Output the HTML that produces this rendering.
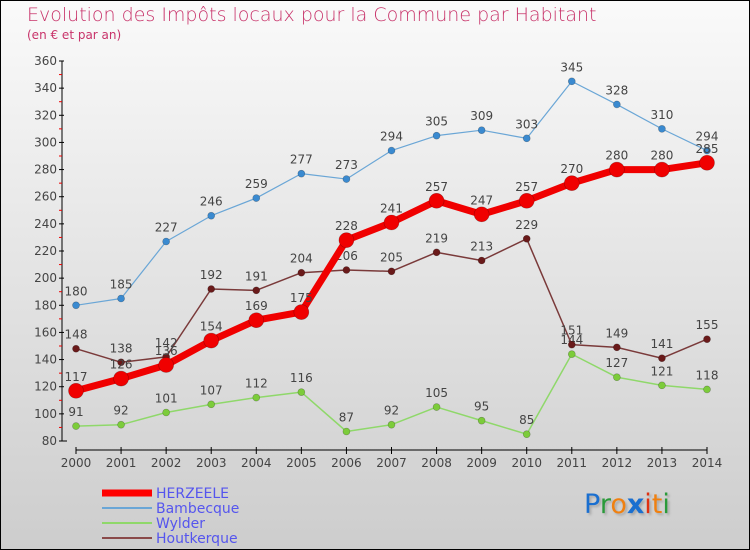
<!DOCTYPE html>
<html><head><meta charset="utf-8"><style>
html,body{margin:0;padding:0}
body{width:750px;height:550px;overflow:hidden;font-family:"DejaVu Sans","Liberation Sans",sans-serif}
#wrap{position:relative;width:748px;height:548px;border:1px solid #000;background:linear-gradient(#fafafa,#cdcdcd)}
.t{position:absolute;color:#c8336a}
</style></head><body>
<div id="wrap">
<div class="t" style="left:26px;top:3px;font-size:19px;font-weight:200">Evolution des Impôts locaux pour la Commune par Habitant</div>
<div class="t" style="left:26px;top:27px;font-size:12px">(en € et par an)</div>
<svg id="c" width="748" height="548" style="position:absolute;left:0;top:0"></svg>
<div style="position:absolute;left:583px;top:488px;font-size:27px;font-family:'DejaVu Sans',sans-serif;text-shadow:2px 2px 2px #aaa"><span style="color:#1a6fd0">P</span><span style="color:#2a9a3a">r</span><span style="color:#f08010">o</span><span style="color:#1a6fd0;font-weight:bold">x</span><span style="color:#e03010">i</span><span style="color:#f08010">t</span><span style="color:#2a9a3a">i</span></div>
</div>
<script>
const years=[2000,2001,2002,2003,2004,2005,2006,2007,2008,2009,2010,2011,2012,2013,2014];
const herzeele=[117,126,136,154,169,175,228,241,257,247,257,270,280,280,285];
const bambecque=[180,185,227,246,259,277,273,294,305,309,303,345,328,310,294];
const wylder=[91,92,101,107,112,116,87,92,105,95,85,144,127,121,118];
const houtkerque=[148,138,142,192,191,204,206,205,219,213,229,151,149,141,155];
const yTicks=[80,100,120,140,160,180,200,220,240,260,280,300,320,340,360];
const NS='http://www.w3.org/2000/svg';
const svg=document.getElementById('c');
const x=i=>75+i*(706-75)/(years.length-1);
const y=v=>440-(v-80)*(380/280);
function mk(t,a,p){const e=document.createElementNS(NS,t);for(const k in a)e.setAttribute(k,a[k]);(p||svg).appendChild(e);return e;}
// axes
const ax=mk('g',{});


mk('line',{x1:61,y1:y(360),x2:61,y2:y(80),stroke:'#000'},ax);
mk('line',{x1:61,y1:y(80),x2:66,y2:y(80),stroke:'#000'},ax);
mk('line',{x1:75,y1:449,x2:706,y2:449,stroke:'#000'},ax);
yTicks.forEach(v=>{
 mk('line',{x1:58,y1:y(v),x2:63,y2:y(v),stroke:'#000'},ax);
 if(v<360)mk('line',{x1:58,y1:y(v+10),x2:61,y2:y(v+10),stroke:'#e00'},ax);
 const t=mk('text',{x:56,y:y(v)+4,'text-anchor':'end','font-size':12,fill:'#444'},ax);
 
 
 t.textContent=v;
});
years.forEach((yr,i)=>{
 mk('line',{x1:x(i),y1:446,x2:x(i),y2:453,stroke:'#000'},ax);
 const t=mk('text',{x:x(i),y:466,'text-anchor':'middle','font-size':12,fill:'#444'},ax);
 
 
 t.textContent=yr;
});
function series(name,data,color,dot,w,r){
 const g=mk('g',{});
 
 
 const pts=data.map((v,i)=>x(i)+','+y(v)).join(' ');
 const l=mk('polyline',{points:pts,fill:'none',stroke:color,'stroke-width':w,'stroke-linejoin':'round'},g);
 
 
 data.forEach((v,i)=>{
  const c=mk('circle',{cx:x(i),cy:y(v),r:r,fill:dot,stroke:'rgba(0,0,0,0.3)','stroke-width':0.6},g);
  
  
  const t=mk('text',{x:x(i),y:y(v)-10,'text-anchor':'middle','font-size':12,fill:'#444'},g);
  
  
  t.textContent=v;
 });
}
series('wylder',wylder,'#8fd86a','#7ccc3a',1.5,3.5);
series('houtkerque',houtkerque,'#7a3a3a','#6a1a1a',1.5,3.5);
series('bambecque',bambecque,'#6aa6d6','#3a8ad0',1.2,3.5);
series('herzeele',herzeele,'#f00000','#f00000',7,7.5);
// legend
const legend=[['HERZEELE','#f00',7],['Bambecque','#6aa6d6',2],['Wylder','#8fd86a',2],['Houtkerque','#8a4a4a',2]];
legend.forEach((l,i)=>{
 const g=mk('g',{});
 
 
 const yy=492+i*15;
 mk('line',{x1:101,y1:yy,x2:151,y2:yy,stroke:l[1],'stroke-width':l[2]},g);
 const t=mk('text',{x:155,y:yy+5,'font-size':14,fill:'#5555ee'},g);
 t.textContent=l[0];
});
</script>
</body></html>
